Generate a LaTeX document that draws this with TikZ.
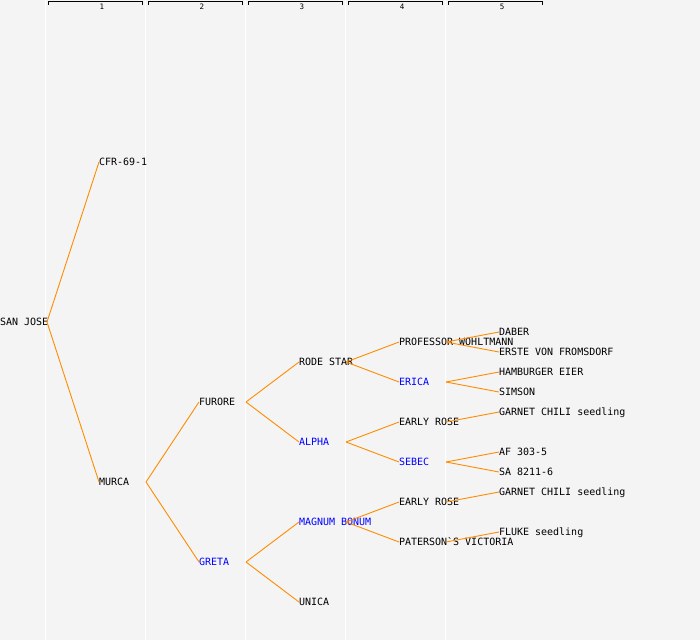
\documentclass[tikz,border=0pt]{standalone}
\usepackage{fontspec}
\setmonofont{DejaVu Sans Mono}
\definecolor{bgc}{HTML}{F4F4F4}
\definecolor{edgec}{HTML}{FF8C00}
\definecolor{bluec}{HTML}{0000FF}
\begin{document}
\begin{tikzpicture}[x=1pt,y=-1pt,
  lbl/.style={anchor=west,inner sep=0pt,outer sep=0pt,text height=8pt,text depth=1pt,font=\ttfamily\fontsize{10}{10}\selectfont,text=black},
  blu/.style={lbl,text=bluec},
  edge/.style={draw=edgec,line width=0.9pt},
  grid/.style={draw=white,line width=1pt},
  hdr/.style={draw=black,line width=0.9pt},
  hnum/.style={inner sep=0pt,font=\ttfamily\fontsize{7.5}{7.5}\selectfont}]
\fill[bgc] (0,0) rectangle (700,640);
\useasboundingbox (0,0) rectangle (700,640);
% column separators
\foreach \x in {45,145,245,345,445} \draw[grid] (\x,0) -- (\x,640);
% header brackets
\foreach \k in {1,...,5} {
  \pgfmathsetmacro{\xa}{48+100*(\k-1)}
  \pgfmathsetmacro{\xb}{142.5+100*(\k-1)}
  \pgfmathsetmacro{\xn}{102+100*(\k-1)}
  \draw[hdr] (\xa,4.5) -- (\xa,1.5) -- (\xb,1.5) -- (\xb,4.5);
  \node[hnum] (h\k) at (\xn,6.5) {\k};
}
\newcommand{\bx}[1]{\makebox[47pt][l]{#1}}
% nodes
\node[lbl] (sj) at (0,322) {\bx{SAN JOSE}};
\node[lbl] (cfr) at (99,162) {\bx{CFR-69-1}};
\node[lbl] (murca) at (99,482) {\bx{MURCA}};
\node[lbl] (furore) at (199,402) {\bx{FURORE}};
\node[blu] (greta) at (199,562) {\bx{GRETA}};
\node[lbl] (rode) at (299,362) {\bx{RODE STAR}};
\node[blu] (alpha) at (299,442) {\bx{ALPHA}};
\node[blu] (magnum) at (299,522) {\bx{MAGNUM BONUM}};
\node[lbl] (unica) at (299,602) {\bx{UNICA}};
\node[lbl] (prof) at (399,342) {\bx{PROFESSOR WOHLTMANN}};
\node[blu] (erica) at (399,382) {\bx{ERICA}};
\node[lbl] (early1) at (399,422) {\bx{EARLY ROSE}};
\node[blu] (sebec) at (399,462) {\bx{SEBEC}};
\node[lbl] (early2) at (399,502) {\bx{EARLY ROSE}};
\node[lbl] (pater) at (399,542) {\bx{PATERSON\textasciigrave S VICTORIA}};
\node[lbl] (daber) at (499,332) {\bx{DABER}};
\node[lbl] (erste) at (499,352) {\bx{ERSTE VON FROMSDORF}};
\node[lbl] (hamb) at (499,372) {\bx{HAMBURGER EIER}};
\node[lbl] (simson) at (499,392) {\bx{SIMSON}};
\node[lbl] (garnet1) at (499,412) {\bx{GARNET CHILI seedling}};
\node[lbl] (af) at (499,452) {\bx{AF 303-5}};
\node[lbl] (sa) at (499,472) {\bx{SA 8211-6}};
\node[lbl] (garnet2) at (499,492) {\bx{GARNET CHILI seedling}};
\node[lbl] (fluke) at (499,532) {\bx{FLUKE seedling}};
% edges
\draw[edge] (sj.east) -- (cfr.west);
\draw[edge] (sj.east) -- (murca.west);
\draw[edge] (murca.east) -- (furore.west);
\draw[edge] (murca.east) -- (greta.west);
\draw[edge] (furore.east) -- (rode.west);
\draw[edge] (furore.east) -- (alpha.west);
\draw[edge] (greta.east) -- (magnum.west);
\draw[edge] (greta.east) -- (unica.west);
\draw[edge] (rode.east) -- (prof.west);
\draw[edge] (rode.east) -- (erica.west);
\draw[edge] (alpha.east) -- (early1.west);
\draw[edge] (alpha.east) -- (sebec.west);
\draw[edge] (magnum.east) -- (early2.west);
\draw[edge] (magnum.east) -- (pater.west);
\draw[edge] (prof.east) -- (daber.west);
\draw[edge] (prof.east) -- (erste.west);
\draw[edge] (erica.east) -- (hamb.west);
\draw[edge] (erica.east) -- (simson.west);
\draw[edge] (early1.east) -- (garnet1.west);
\draw[edge] (sebec.east) -- (af.west);
\draw[edge] (sebec.east) -- (sa.west);
\draw[edge] (early2.east) -- (garnet2.west);
\draw[edge] (pater.east) -- (fluke.west);
\end{tikzpicture}
\end{document}
